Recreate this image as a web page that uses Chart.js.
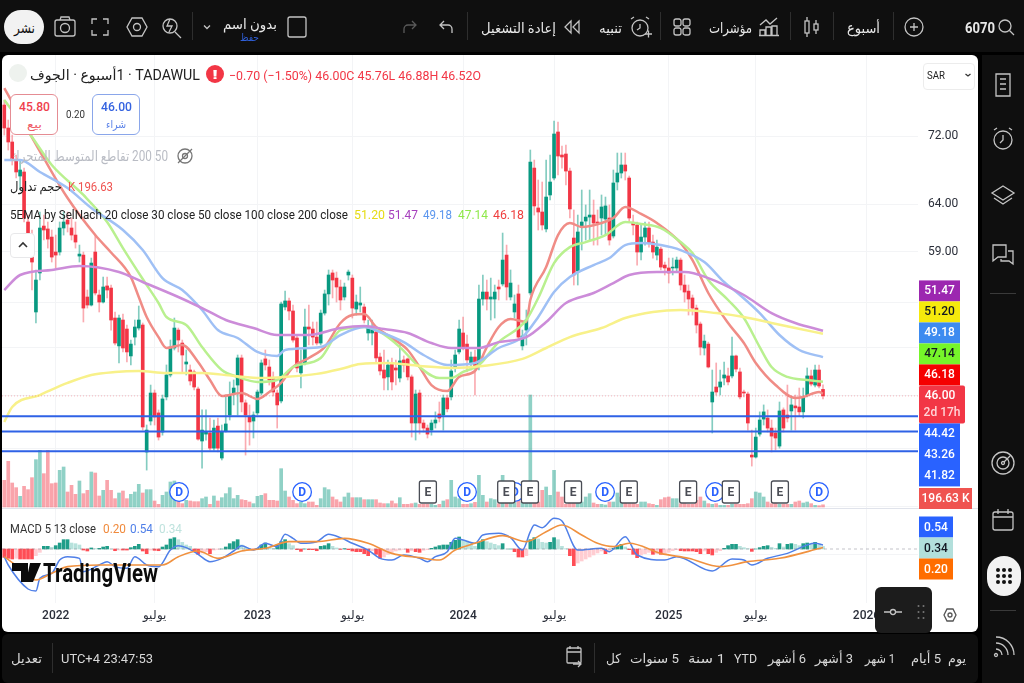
<!DOCTYPE html>
<html lang="ar"><head><meta charset="utf-8">
<script src="https://cdn.jsdelivr.net/npm/chart.js@4"></script>
<style>
html,body{margin:0;padding:0;width:1024px;height:683px;overflow:hidden;background:#000;font-family:Roboto,"Noto Sans","DejaVu Sans",sans-serif}
#top{position:absolute;left:0;top:0;width:1024px;height:52px;background:#0f0f0f}
#side{position:absolute;left:982px;top:55px;width:42px;height:628px;background:#0f0f0f}
#bottom{position:absolute;left:2px;top:634px;width:976px;height:49px;background:#0f0f0f;border-radius:6px}
#pane{position:absolute;left:2px;top:55px;width:976px;height:577px;background:#fff;border-radius:6px;overflow:hidden}
#chartCanvas{position:absolute;left:0;top:0}
#ov{position:absolute;left:0;top:0;width:1024px;height:683px;pointer-events:none}
#ov span,#ov div{position:absolute;white-space:nowrap}
#ov svg{position:absolute;overflow:visible}
</style></head><body>
<div id="top"></div><div id="side"></div><div id="bottom"></div>
<div id="pane"><canvas id="chartCanvas" width="976" height="577" style="width:976px;height:577px"></canvas></div>
<div id="ov"></div>
<script>
// ---- weekly candles (SAR) ----
const opens=[75.95,73.0,71.26,69.08,67.2,67.67,62.08,58.44,53.16,56.86,
61.65,61.34,60.49,58.95,58.95,61.44,62.29,61.44,60.70,58.54,
58.64,54.55,53.80,58.95,54.74,54.08,55.60,55.40,52.61,50.14,
52.43,51.62,49.28,50.91,51.71,51.98,41.76,44.05,46.23,44.67,
43.22,45.92,47.69,49.96,51.53,50.39,48.60,48.10,47.94,46.55,
42.56,43.07,43.15,42.04,43.67,41.33,43.30,44.51,46.23,46.87,
49.11,45.45,44.36,44.05,44.67,46.23,49.03,48.35,47.44,46.23,
45.60,53.62,54.18,53.25,50.83,47.86,48.69,51.80,51.62,50.91,
50.39,53.06,54.84,56.86,56.36,55.50,54.55,56.66,56.36,53.43,
53.80,53.62,51.27,51.27,51.36,49.19,48.10,47.53,48.69,48.27,
47.44,48.94,49.03,47.53,43.90,46.23,43.90,43.52,43.37,43.90,
44.59,44.51,45.84,45.92,48.27,49.62,51.27,50.30,48.69,49.19,
48.44,54.36,55.02,54.36,54.36,55.50,55.79,58.64,54.55,53.16,
54.84,50.14,51.53,54.93,68.13,63.60,63.16,61.34,65.04,66.97,
72.50,69.68,69.80,67.78,60.39,57.05,61.55,62.18,62.61,62.83,
62.08,62.51,62.40,62.51,60.60,66.51,67.55,68.49,66.97,61.97,
61.76,58.95,60.49,61.44,59.97,58.64,59.25,57.64,57.35,57.35,
57.35,58.14,55.69,55.11,54.46,53.52,52.07,49.96,50.30,45.52,
46.71,46.71,47.44,47.61,47.61,49.28,47.94,46.31,46.15,41.54,
41.40,43.07,44.20,44.28,43.52,43.15,42.19,44.90,44.51,44.82,
45.21,45.13,44.75,46.07,47.61,46.87,48.10,46.52];
const highs=[76.61,74.01,72.12,69.68,69.08,68.13,62.83,61.23,57.15,63.16,
62.83,62.08,61.23,60.70,62.08,63.16,63.16,62.51,62.08,59.66,
58.95,55.21,58.34,60.70,55.21,56.46,56.46,55.69,53.16,52.88,
52.97,51.98,50.65,52.43,53.71,52.16,43.75,46.87,46.47,44.90,
46.07,48.52,50.65,52.61,51.71,50.65,49.79,48.52,48.10,46.71,
44.90,44.90,44.28,44.13,44.28,43.75,46.07,47.12,47.28,49.36,
49.36,45.68,45.29,44.75,46.47,48.94,49.79,48.94,47.94,46.47,
54.08,55.11,54.46,53.80,51.09,49.79,53.43,53.80,52.25,52.25,
53.34,55.21,57.15,57.15,56.95,56.17,55.88,57.15,56.66,54.74,
55.50,53.90,52.43,52.43,51.71,49.53,49.79,48.94,49.11,48.94,
50.22,49.28,49.11,47.69,46.47,46.47,44.13,43.75,44.13,44.75,
45.52,46.07,46.07,48.94,49.79,52.43,52.70,51.09,49.62,49.79,
55.69,56.66,56.17,56.36,55.69,56.17,60.91,59.66,57.15,54.74,
55.69,51.53,53.34,70.28,69.08,66.74,66.51,69.08,69.68,73.88,
73.76,70.77,70.89,68.13,63.38,62.83,65.60,63.93,65.60,64.48,
63.38,65.04,64.81,63.93,67.90,69.92,69.92,69.92,67.20,62.83,
62.08,61.76,62.08,62.08,60.70,60.18,59.45,57.94,58.34,58.34,
58.44,58.34,56.66,55.69,54.74,53.80,52.25,51.09,50.47,48.10,
48.69,48.10,48.77,48.27,50.91,49.36,48.27,46.47,46.31,43.37,
43.52,44.75,45.29,44.90,44.13,43.52,45.52,45.06,46.87,45.84,
46.07,46.63,46.63,48.27,48.10,48.52,48.52,46.88];
const lows=[72.12,70.28,68.49,66.97,65.60,62.08,60.18,55.21,52.16,56.17,
60.18,59.35,57.94,57.35,58.64,60.70,61.02,60.18,59.35,57.94,
52.25,53.52,53.71,54.74,53.16,53.99,54.46,51.53,50.22,48.69,
49.62,48.77,48.52,50.22,51.53,43.37,40.48,43.75,43.75,42.63,
42.99,45.68,47.53,49.79,49.62,47.94,47.69,46.87,46.47,42.63,
40.62,42.63,41.90,41.90,41.76,41.19,43.22,44.13,45.29,44.51,
44.75,41.54,42.26,42.78,44.51,46.07,48.10,46.87,45.99,43.52,
45.45,53.34,52.43,50.47,47.94,46.63,48.52,50.22,50.22,50.22,
50.22,52.88,53.80,54.46,54.08,53.34,54.27,56.17,52.61,52.88,
53.16,52.16,50.65,50.22,48.77,47.69,46.47,46.47,46.47,46.87,
47.12,47.94,47.28,42.85,42.63,43.07,43.22,42.78,42.99,43.52,
43.98,43.37,44.75,45.68,47.94,49.45,49.79,47.94,48.10,46.07,
48.10,53.80,53.34,52.43,52.61,54.27,55.60,54.27,54.27,52.61,
50.65,49.79,50.22,54.74,62.83,61.23,61.23,61.02,64.48,66.74,
67.32,68.13,66.17,62.51,55.69,55.69,59.15,60.18,60.18,59.66,
59.66,60.70,60.70,59.66,60.39,65.60,66.97,66.74,62.08,60.70,
57.64,58.14,59.66,59.45,58.34,58.14,57.15,56.66,55.88,56.66,
56.95,55.21,54.08,52.88,52.88,51.27,49.36,49.36,48.27,43.15,
46.07,46.07,46.87,46.87,47.44,47.94,45.76,45.92,43.37,40.76,
41.33,42.92,43.75,43.22,41.76,41.90,42.04,43.22,43.98,43.37,
43.37,44.43,44.28,45.92,46.79,46.71,46.63,45.76];
const closes=[73.0,71.26,69.08,67.67,67.9,62.51,60.91,57.94,56.17,61.44,
61.23,60.28,58.44,58.64,61.44,62.08,61.86,60.70,59.97,58.74,
53.52,53.80,57.84,54.93,54.08,55.50,55.21,52.43,50.39,52.61,
49.96,49.62,50.30,51.80,52.43,43.60,43.37,46.23,44.36,42.85,
45.76,47.69,50.04,51.71,50.65,49.36,48.77,47.20,46.71,42.70,
43.37,43.22,42.04,43.52,42.04,43.22,43.83,45.99,46.63,49.11,
45.52,44.51,43.98,44.51,46.31,48.69,48.52,47.28,46.31,45.29,
53.90,54.18,53.25,50.65,48.27,48.69,51.80,51.62,50.91,50.39,
53.06,54.84,56.66,56.17,55.50,54.27,55.50,56.95,53.52,54.08,
53.99,52.43,51.80,51.71,49.11,48.02,47.44,48.52,47.12,48.10,
48.86,48.52,47.53,43.90,46.15,43.90,43.52,43.07,43.90,44.13,
44.28,45.84,44.98,48.02,49.36,51.62,50.04,48.94,49.19,48.27,
54.36,55.02,54.36,54.55,55.02,55.31,58.14,55.50,55.88,53.90,
50.91,51.00,52.43,68.84,63.82,63.16,61.76,64.81,66.51,72.25,
69.56,69.44,67.78,63.49,56.66,61.02,62.08,62.61,62.83,61.97,
61.97,63.71,63.82,60.18,66.40,67.55,68.49,67.78,62.51,61.76,
58.95,60.49,61.44,59.87,58.95,59.45,57.44,57.35,56.86,57.44,
58.14,55.69,55.02,54.36,53.52,51.98,50.04,50.56,48.35,46.31,
46.31,47.12,47.69,47.12,49.28,48.18,45.92,46.23,43.90,41.40,
42.85,44.13,44.75,43.52,42.92,42.78,44.82,43.52,44.28,45.29,
45.06,44.75,45.92,47.61,46.95,48.10,46.79,46.00];
const volumesK=[2400,4110,2160,1740,960,1860,1560,2640,4260,5100,
3000,5100,2100,2160,3300,3600,1350,1950,1140,2340,
1200,1500,3150,3060,990,1500,2400,1500,750,1260,
1440,750,1140,1350,2040,1260,1560,1560,540,240,
1050,1350,2250,2340,900,300,600,540,480,480,
750,900,240,990,540,840,1200,1740,750,1050,
660,600,450,300,960,1050,1200,600,600,540,
3450,1440,900,600,300,450,300,450,450,150,
750,1740,1560,900,660,450,900,1260,840,840,
840,660,660,660,660,360,300,300,540,300,
840,240,240,300,360,240,240,240,240,150,
240,540,660,2400,900,750,240,240,300,420,
2850,1050,450,750,660,300,
2850,900,900,450,600,450,450,10080,1200,450,
1500,1800,1050,3300,1350,900,240,450,450,450,
450,900,1200,360,240,240,180,450,450,1260,
900,450,300,300,240,450,450,300,240,150,
660,840,900,750,750,300,300,240,240,600,
900,540,300,240,300,150,150,150,240,240,
240,240,300,750,1350,1260,900,450,300,300,
240,240,240,240,450,540,360,450,300,150,
120,196.63];
const macdHist=[-1.13,-1.26,-1.35,-1.26,-1.35,-1.35,-1.35,-1.35,-.9,-.45,
.36,.36,.23,.45,.81,1.26,1.26,.81,.72,.54,
-.14,-.27,.14,.05,.09,.27,.36,0,-.23,-.14,
-.14,-.14,.18,.36,.63,-.27,-.63,-.14,-.18,-.23,
.27,.54,1.35,1.53,1.26,.9,.54,.36,-.23,-.72,
-.54,-.36,-.63,-.14,-.05,0,.27,.72,.99,1.26,
.54,.23,.05,-.09,.09,.54,.81,.23,.09,.54,
.99,1.26,.72,.45,-.09,-.32,0,-.09,-.09,-.23,
.36,.45,.72,.36,.14,-.05,.05,-.09,-.27,-.36,
-.36,-.63,-.9,-.23,-.72,-1.26,-1.08,-.72,-.45,-.27,
-.14,-.05,-.45,-.23,-.36,-.45,-.18,
-.09,.09,.27,.45,.54,.54,.9,1.17,1.62,1.17,
1.08,.72,.36,.9,1.26,.99,.81,.63,.45,.72,
0,0,-.36,-1.08,-1.08,-.9,1.26,1.53,1.35,.9,
.81,.9,1.53,1.26,.36,.05,-.9,-2.25,-1.89,-1.62,
-1.35,-1.08,-.81,-.54,-.27,-.63,-.18,.09,.36,.63,.27,
-.09,-.72,-1.17,-.81,-.63,-.45,-.72,-.63,-.72,-.63,
-.45,-.23,-.09,-.23,-.27,-.27,-.27,-.36,-.63,-.27,
-.63,-.81,-.45,-.23,.09,.45,.63,.63,.36,.18,
.05,-.32,0,.18,.36,.45,.23,.09,.72,.27,
.63,.72,.63,.45,.72,.81,.72,.9,.54,.34];

// ---- moving averages, read at sample weeks ----
const ema20Weeks=[0,10,16,23,27,32,34,36,39,41,45,49,52,55,60,64,67,70,73,77,81,85,88,91,94,98,102,105,108,112,115,119,122,125,128,132,133,137,140,143,146,151,154,157,161,165,171,174,178,183,187,190,195,200,202,206,207];
const ema20Values=[78.2,69.3,64.7,60.7,58.9,56.46,54.55,52.7,50.9,49.96,50.22,48.77,47.28,45.99,46.23,45.76,46.31,47.04,48.35,49.11,50.04,52.16,52.88,52.97,51.8,50.83,49.79,48.35,46.87,46.39,47.53,48.02,50.04,51.8,52.52,52.25,54.27,57.44,60.7,61.97,61.55,61.97,62.51,63.71,62.95,61.97,59.87,58.14,54.93,52.16,50.39,48.69,46.87,45.84,45.92,46.31,46.18];
const ema30Weeks=[0,7,12,20,26,30,35,39,41,46,50,55,59,64,69,73,80,85,91,95,100,105,110,113,116,120,125,130,132,135,139,143,147,152,157,161,166,171,174,178,183,187,191,194,198,203,207];
const ema30Values=[76.61,71.88,68.49,65.04,62.08,59.35,56.27,53.99,52.7,51.98,50.04,48.1,47.53,47.12,47.28,48.35,49.11,51.53,51.8,51.36,50.04,48.35,47.44,47.44,47.94,48.52,50.47,51.71,52.43,54.46,57.84,59.45,59.97,60.7,62.08,61.86,61.44,59.97,58.84,56.17,54.27,52.61,50.04,48.35,47.53,47.28,47.14];
const ema50Weeks=[0,4,9,16,22,30,35,40,45,50,54,59,64,69,71,80,85,91,95,101,106,112,119,125,131,135,139,143,149,153,157,161,166,171,177,182,186,191,196,201,207];
const ema50Values=[69.08,69.08,67.67,65.83,63.6,61.23,59.15,56.36,55.21,53.34,51.53,50.83,49.62,49.28,49.79,50.04,51.09,51.8,51.36,50.47,49.36,48.52,48.69,49.96,50.91,52.7,55.02,56.46,57.64,58.34,59.66,59.87,59.66,59.15,57.94,55.98,54.74,53.06,51.09,49.79,49.18];
const ema100Weeks=[0,4,12,19,29,35,44,51,56,63,69,77,85,91,96,102,108,113,120,125,132,137,142,149,154,158,165,172,178,187,194,200,207];
const ema100Values=[55.21,56.66,57.15,57.54,56.95,55.98,54.55,53.34,52.43,51.71,51.09,51.09,51.71,51.89,51.62,51.27,50.39,49.96,49.96,50.47,50.91,52.25,53.99,54.93,55.88,56.66,56.95,56.95,56.36,54.74,53.06,52.16,51.47];
const ema200Weeks=[0,2,9,16,22,28,34,41,50,58,65,71,79,85,90,97,105,113,121,131,137,143,151,157,164,171,180,187,194,200,207];
const ema200Values=[43.98,45.13,46.07,47.04,47.69,47.94,48.02,47.86,47.86,47.61,47.44,47.53,47.78,48.18,48.6,48.69,48.44,48.27,48.44,49.03,49.96,50.91,51.71,52.61,53.16,53.34,53.06,52.7,52.16,51.71,51.2];

// ---- MACD lines, read at sample weeks ----
const macdWeeks=[0,1,6,8,9,12,14,16,19,20,24,26,28,31,33,36,39,42,44,46,49,52,55,58,60,63,66,69,71,73,75,79,82,85,88,92,95,98,101,105,107,109,112,114,116,119,121,125,128,131,133,134,136,139,141,145,151,153,157,160,167,170,179,184,187,189,193,198,205,207];
const macdValues=[-1.04,-2.16,-5.4,-5.67,-3.96,-3.28,-1.49,-1.04,-1.26,-3.06,-2.16,-1.71,-2.38,-2.61,-1.04,-2.16,-2.38,-.14,.45,.18,-.72,-1.71,-1.26,-.27,.45,-.14,.77,.32,1.98,1.44,.77,.99,1.98,1.53,.77,-.14,-1.26,-1.49,-.81,-1.26,-1.71,-1.04,-.36,1.44,1.22,.77,1.89,2.12,1.53,-.14,2.34,3.24,2.88,4.14,3.78,-.14,.09,-.36,1.67,-.81,-1.49,-1.04,-2.97,-1.35,-1.49,-2.16,-1.26,-.59,.77,.54];
const signalWeeks=[0,4,8,12,16,24,33,40,44,49,54,60,66,72,79,86,92,98,105,110,114,119,126,132,137,141,146,150,154,158,166,173,181,188,196,207];
const signalValues=[-1.04,-2.61,-4.19,-3.28,-2.38,-2.16,-2.16,-2.16,-1.04,-.27,-1.26,-.27,.09,.99,.99,1.44,.77,-.59,-1.17,-1.49,-.14,.77,1.8,.99,2.34,3.24,1.89,.77,.32,.77,-.59,-1.26,-2.38,-1.71,-1.26,.2];

// ---- levels, ticks, events, tags ----
const blueLevels=[44.42,43.26,41.82];
const lastPrice=46.00;
const priceTicks=[72,64,59,54,50,46,42,38,35];
const labelledPrices=[72,64,59];
const xTickWeeks=[13,38,64,88,116,139,168,190,218];
const xTickLabels=['2022','يوليو','2023','يوليو','2024','يوليو','2025','يوليو','2026'];
const earningsWeeks=[107.1,126.9,132.9,143.8,157.9,172.9,183.7,196.1];
const dividendWeeks=[44.2,75.3,117,129.1,151.9,179.7,206];
const upperTags=[['51.47','#9c27b0','#fff'],['51.20','#f5e90c','#131722'],['49.18','#3d8bf0','#fff'],['47.14','#76f52a','#131722'],['46.18','#f50000','#fff']];
const lowerTags=['44.42','43.26','41.82'];
const macdTags=[['0.54','#2962ff','#fff'],['0.34','#b2dfdb','#131722'],['0.20','#ff6d00','#fff']];

const UP='#089981',DOWN='#f23645';
const isUp=closes.map((c,i)=>c>=opens[i]);
const sample=(wk,val)=>wk.map((w,i)=>({x:w,y:val[i]}));
const line=(wk,val,color,id,w)=>({type:'line',label:id,data:sample(wk,val),borderColor:color,borderWidth:w||2.5,pointRadius:0,cubicInterpolationMode:'monotone',order:3,yAxisID:'y'});
const XMIN=-0.58,XMAX=231.02;
const hline=(v,color,w,dash,axis,order)=>({type:'line',data:[{x:XMIN,y:v},{x:XMAX,y:v}],borderColor:color,borderWidth:w,borderDash:dash||[],pointRadius:0,order,yAxisID:axis||'y'});

const macdColor=macdHist.map((v,i)=>{const p=i?macdHist[i-1]:0;
  if(v>=0)return v>=p?'#1f9e89':'#b7e2dc';return v<=p?'#ff4d55':'#ffcdd2';});

const plugin={id:'extras',
 afterDatasetsDraw(c){
  const g=c.ctx,x=c.scales.x,vol=c.scales.vol,y0=vol.getPixelForValue(0)-15;
  g.save();g.font='bold 12px Roboto';g.textAlign='center';g.textBaseline='middle';
  dividendWeeks.forEach(w=>{const px=x.getPixelForValue(w);g.beginPath();g.arc(px,y0,9.3,0,7);g.fillStyle='#fff';g.fill();g.lineWidth=1.3;g.strokeStyle='#2962ff';g.stroke();g.fillStyle='#2962ff';g.fillText('D',px,y0+.5);});
  earningsWeeks.forEach(w=>{const px=x.getPixelForValue(w);g.beginPath();g.roundRect(px-8.5,y0-11,17,22,2);g.fillStyle='#fff';g.fill();g.lineWidth=1.3;g.strokeStyle='#4a4d55';g.stroke();g.fillStyle='#4a4d55';g.fillText('E',px,y0+.5);});
  // separator between the price and MACD panes
  g.strokeStyle='#e0e3eb';g.lineWidth=1;g.beginPath();g.moveTo(0,vol.getPixelForValue(0)+1.5);g.lineTo(976,vol.getPixelForValue(0)+1.5);g.stroke();
  g.restore();
 },
 afterDraw(c){
  const g=c.ctx,y=c.scales.y,m=c.scales.macd,L=c.chartArea.right+1;
  g.save();g.font='500 12px Roboto';g.textBaseline='middle';g.textAlign='center';
  const H=21;
  const top=y.getPixelForValue(lastPrice)-10.5;
  upperTags.forEach((t,i)=>{const yy=top-H*(upperTags.length-i);g.fillStyle=t[1];g.fillRect(L,yy,41,H);g.fillStyle=t[2];g.fillText(t[0],L+20.5,yy+H/2+.5);});
  g.fillStyle='#f23645';g.beginPath();g.roundRect(L,top,46,38,2);g.fill();
  g.fillStyle='#fff';g.fillText('46.00',L+21,top+11);g.fillStyle='#ffd5d8';g.fillText('2d 17h',L+23,top+28);
  const bt=top+38;g.fillStyle='#2962ff';g.fillRect(L,bt,41,H*3);
  g.fillStyle='#fff';lowerTags.forEach((t,i)=>g.fillText(t,L+20.5,bt+H*i+H/2+.5));
  const vb=c.scales.vol.getPixelForValue(0);
  g.fillStyle='#ef5350';g.fillRect(L,vb-19,53,21);g.fillStyle='#fff';g.fillText('196.63 K',L+26.5,vb-8);
  const z=m.getPixelForValue(0);
  macdTags.forEach((t,i)=>{const yy=z-32+H*i-.5;g.fillStyle=t[1];g.fillRect(L,yy,34,H);g.fillStyle=t[2];g.fillText(t[0],L+17,yy+H/2+.5);});
  g.restore();
 }};

new Chart(document.getElementById('chartCanvas'),{
 plugins:[plugin],
 data:{datasets:[
  hline(lastPrice,'rgba(242,54,69,.35)',1,[1,2],'y',2),
  ...blueLevels.map(v=>hline(v,'#2f62e6',2,[], 'y',1)),
  hline(0,'rgba(120,123,134,.45)',1,[3,3],'macd',2),
  line(ema200Weeks,ema200Values,'#f8f18a','EMA 200'),
  line(ema100Weeks,ema100Values,'#cc8cd9','EMA 100'),
  line(ema50Weeks,ema50Values,'#9fc0f5','EMA 50'),
  line(ema30Weeks,ema30Values,'#b9f08f','EMA 30'),
  line(ema20Weeks,ema20Values,'#f08c86','EMA 20'),
  {type:'line',data:sample(signalWeeks,signalValues),borderColor:'#f0913f',borderWidth:1.6,pointRadius:0,cubicInterpolationMode:'monotone',yAxisID:'macd',order:1},
  {type:'line',data:sample(macdWeeks,macdValues),borderColor:'#4f7fe8',borderWidth:1.5,pointRadius:0,cubicInterpolationMode:'monotone',yAxisID:'macd',order:2},
  {type:'bar',data:closes.map((c,i)=>({x:i,y:[opens[i],c]})),backgroundColor:isUp.map(u=>u?UP:DOWN),barThickness:3,grouped:false,order:4,yAxisID:'y'},
  {type:'bar',data:closes.map((c,i)=>({x:i,y:[lows[i],highs[i]]})),backgroundColor:isUp.map(u=>u?'rgba(8,153,129,.5)':'rgba(242,54,69,.42)'),barThickness:1,grouped:false,order:5,yAxisID:'y'},
  {type:'bar',data:volumesK.map((v,i)=>({x:i,y:v})),backgroundColor:isUp.map(u=>u?'rgba(8,153,129,.45)':'rgba(242,54,69,.45)'),barThickness:3,grouped:false,order:10,yAxisID:'vol'},
  {type:'bar',data:macdHist.map((v,i)=>({x:i,y:v})),backgroundColor:macdColor,barThickness:3,grouped:false,order:6,yAxisID:'macd'}
 ]},
 options:{responsive:false,animation:false,devicePixelRatio:1,
  layout:{padding:0},
  plugins:{legend:{display:false},tooltip:{enabled:false},title:{display:false}},
  scales:{
   x:{type:'linear',min:XMIN,max:XMAX,offset:false,
    afterFit(s){s.height=29;s.paddingLeft=0;s.paddingRight=0},
    afterBuildTicks(s){s.ticks=xTickWeeks.map(v=>({value:v}))},
    grid:{color:'#f3f4f6',drawTicks:false,offset:false},border:{display:false},
    ticks:{autoSkip:false,maxRotation:0,padding:6,color:'#2a2e39',font:{family:'Roboto',size:12,weight:'500'},
     callback:(v)=>xTickLabels[xTickWeeks.indexOf(v)]}},
   y:{type:'logarithmic',position:'right',min:32.19,max:82.79,
    afterFit(s){s.width=60;s.paddingTop=0;s.paddingBottom=0},
    afterBuildTicks(s){s.ticks=priceTicks.map(v=>({value:v}))},
    grid:{color:'#f3f4f6',drawTicks:false},border:{display:false},
    ticks:{autoSkip:false,padding:10,color:'#2a2e39',font:{family:'Roboto',size:12},
     callback:(v)=>labelledPrices.includes(v)?v.toFixed(2):''}},
   vol:{type:'linear',display:false,min:-8640,max:40680},
   macd:{type:'linear',display:false,min:-7.29,max:66.69}
  }}
});

// ---- interface text and icons ----
const ov=document.getElementById('ov');
function t(l,r,cy,s,o){o=o||{};const e=document.createElement('span');e.textContent=s;
 e.style.cssText=`left:${l}px;top:0;font-size:${o.size||13}px;color:${o.color||'#d6d6d6'};font-weight:${o.weight||400};transform-origin:0 0;line-height:1`;
 if(o.dir)e.dir=o.dir;ov.appendChild(e);
 const b=e.getBoundingClientRect();e.style.top=(cy-b.height/2)+'px';
 e.style.transform=`scaleX(${(r-l)/b.width})`;return e;}
function ic(x,y,inner,stroke,sw){const n='http://www.w3.org/2000/svg';const s=document.createElementNS(n,'svg');
 s.setAttribute('width',24);s.setAttribute('height',24);s.setAttribute('viewBox','-12 -12 24 24');
 s.setAttribute('fill','none');s.setAttribute('stroke',stroke||'#c4c4c4');s.setAttribute('stroke-width',sw||1.3);
 s.style.left=(x-12)+'px';s.style.top=(y-12)+'px';s.innerHTML=inner;ov.appendChild(s);}
function box(l,tp,w,h,css){const d=document.createElement('div');d.style.cssText=`left:${l}px;top:${tp}px;width:${w}px;height:${h}px;${css}`;ov.appendChild(d);return d;}
const sep=x=>box(x,12,1,28,'background:#2e2e2e');

// top bar
box(4,10,40,34,'background:#f2f2f2;border-radius:17px');
t(14,35,28,'نشر',{color:'#111',size:14});
ic(65,27,'<rect x="-10" y="-7" width="20" height="16" rx="2"/><circle r="4.5" cy="1"/><path d="M-5-7l1-3h8l1 3"/>');
ic(100,27,'<path d="M-8-3v-5h5M3-8h5v5M8 3v5H3M-3 8h-5V3"/>');
ic(137,27,'<path d="M-5-9H5L10 0 5 9H-5L-10 0z"/><circle r="3.5"/>');
ic(171,27,'<circle r="7" cx="-1" cy="-1"/><path d="M4 5l6 6M-1-8l-3 7h5l-3 6"/>');
sep(192);
ic(207,27,'<path d="M-3-1.5L0 1.5 3-1.5"/>');
t(223,277,24,'بدون اسم',{color:'#e8e8e8',size:14});
t(240,259,38,'حفظ',{color:'#2f5fd8',size:10});
ic(297,27,'<rect x="-9" y="-10" width="18" height="20" rx="2"/>');
ic(410,27,'<path d="M-6 6v-4a4 4 0 0 1 4-4H6M2-6L6-2 2 2"/>','#5a5a5a');
ic(446,27,'<path d="M6 6v-4a4 4 0 0 0-4-4H-6M-2-6L-6-2-2 2"/>');
sep(467);
t(481,556,28,'إعادة التشغيل',{color:'#e8e8e8',size:14});
ic(572,27,'<path d="M7-6L1 0l6 6zM-1-6l-6 6 6 6z"/>');
t(599,622,28,'تنبيه',{color:'#e8e8e8',size:14});
ic(640,27,'<circle r="8" cy="1"/><path d="M0-3V1L-3 3M-9-8L-6-10M9-8L6-10M5 7h7M8.5 3.5v7"/>');
sep(660);
ic(682,27,'<rect x="-8" y="-8" width="7" height="7" rx="2"/><rect x="1" y="-8" width="7" height="7" rx="2"/><rect x="-8" y="1" width="7" height="7" rx="2"/><rect x="1" y="1" width="7" height="7" rx="2"/>');
t(709,752,28,'مؤشرات',{color:'#e8e8e8',size:14});
ic(769,27,'<path d="M-9-2L-3-7 1-3 8-9M-9 8V3h5v5M-3 8V0h5v8M3 8V-1h5v9M-10 8.5h20"/>');
sep(790);
ic(811,27,'<rect x="-6" y="-6" width="4" height="12"/><rect x="3" y="-3" width="4" height="6"/><path d="M-4-10v4M-4 6v4M5-7v4M5 3v4"/>');
sep(833);
t(847,880,28,'أسبوع',{color:'#e8e8e8',size:14});
sep(893);
ic(914,27,'<circle r="9"/><path d="M-4 0H4M0-4V4"/>');
t(965,995,28,'6070',{color:'#e8e8e8',size:14,weight:700});
ic(1006,27,'<circle r="6" cx="-1" cy="-1"/><path d="M3.5 3.5L8 8"/>');

// side bar
ic(1003,85,'<path d="M-7-11H7V11H-7zM-3-6H3M-3-1H3M-3 4H3"/>');
ic(1003,139,'<circle r="9" cy="1"/><path d="M0-4V1L-3 4M-9-9L-6-11M9-9L6-11"/>');
ic(1003,195,'<path d="M0-9L11-2 0 5-11-2zM-9 3L0 9 9 3"/>');
ic(1003,254,'<path d="M-10-9H3V3H-5L-10 7zM5-3H10V10L6 7H-2V5"/>');
box(990,293,26,1,'background:#3a3a3a');
ic(1003,463,'<circle r="11"/><circle r="6"/><circle r="1.5"/><path d="M1 -1L8-8"/>');
ic(1003,520,'<rect x="-10" y="-8" width="20" height="18" rx="2"/><path d="M-10-3H10M-5-11v5M5-11v5"/>');
box(987,556,34,40,'background:#f2f2f2;border-radius:20px');
ic(1004,576,'<g fill="#111" stroke="none"><circle cx="-6" cy="-6" r="2"/><circle cy="-6" r="2"/><circle cx="6" cy="-6" r="2"/><circle cx="-6" r="2"/><circle r="2"/><circle cx="6" r="2"/><circle cx="-6" cy="6" r="2"/><circle cy="6" r="2"/><circle cx="6" cy="6" r="2"/></g>');
box(990,610,26,1,'background:#3a3a3a');
ic(1003,647,'<circle cx="-7" cy="8" r="1.5"/><path d="M-7 2a6 6 0 0 1 6 6M-7-4a12 12 0 0 1 12 12M-7-10a18 18 0 0 1 18 18"/>');

// bottom bar
[[948,966,'يوم'],[911,941,'5 أيام'],[865,895,'1 شهر'],[815,853,'3 أشهر'],[768,806,'6 أشهر'],[734,757,'YTD'],[688,725,'1 سنة'],[630,679,'5 سنوات'],[606,621,'كل']].forEach(a=>t(a[0],a[1],658,a[2],{color:'#d8d8d8',size:13,dir:'rtl'}));
ic(574,656,'<rect x="-7" y="-8" width="14" height="15" rx="1"/><path d="M-7-4H7M-4-10v3M4-10v3M-1 8h8M4 5l3 3-3 3"/>');
box(594,643,1,30,'background:#2e2e2e');
t(61,153,658,'UTC+4 23:47:53',{color:'#d8d8d8',size:13});
box(52,643,1,30,'background:#2e2e2e');
t(11,42,658,'تعديل',{color:'#d8d8d8',size:13});

// legend over the chart
t(30,200,75,'TADAWUL ·\u200f 1أسبوع · الجوف',{color:'#222',size:14,dir:'rtl'});
box(9,64,18,18,'background:#eef2ee;border-radius:9px');
box(206,65,18,18,'background:#f23645;border-radius:9px');
t(212,218,74.5,'!',{color:'#fff',size:13,weight:700});
const ohlc=t(229,481,75,'−0.70 (−1.50%) 46.00C 45.76L 46.88H 46.52O',{color:'#f23645',size:13});
ohlc.style.unicodeBidi='bidi-override';ohlc.style.direction='ltr';
box(10,94,48,41,'background:#fff;border:1px solid #e58c93;border-radius:6px;box-sizing:border-box');
t(19,50,106,'45.80',{color:'#ef3f4d',size:13,weight:500});
t(27,42,124,'بيع',{color:'#ef5a66',size:11});
t(66,85,114,'0.20',{color:'#333',size:11});
box(92,94,48,41,'background:#fff;border:1px solid #8aa6ea;border-radius:6px;box-sizing:border-box');
t(101,132,106,'46.00',{color:'#3563e0',size:13,weight:500});
t(106,126,124,'شراء',{color:'#5a82e8',size:11});
t(10,168,156,'50 200 تقاطع المتوسط المتحرك',{color:'#b9bcc4',size:14,dir:'rtl'});
ic(185,156,'<circle r="7"/><circle r="2.5"/><path d="M-7 7L7-7"/>','#777');
t(10,62,186,'حجم تداول',{color:'#222',size:13});
t(68,113,186,'K 196.63',{color:'#ef5350',size:13});
t(10,348,214,'5EMA by SelNach 20 close 30 close 50 close 100 close 200 close',{color:'#222',size:13});
[[354,385,'51.20','#e6dc14'],[388,418,'51.47','#a63fbd'],[423,452,'49.18','#5b96ee'],[458,488,'47.14','#8fe84a'],[493,524,'46.18','#ef3f3f']].forEach(a=>t(a[0],a[1],214,a[2],{color:a[3],size:13}));
box(10,233,25,25,'background:#fff;border:1px solid #e8e8ea;border-radius:4px;box-sizing:border-box');
ic(22.5,245,'<path d="M-4 2L0-2 4 2"/>','#333',1.6);
box(923,63,52,27,'background:#fff;border:1px solid #ececec;border-radius:4px;box-sizing:border-box');
t(927,945,75,'SAR',{color:'#222',size:11});
ic(968,75,'<path d="M-2.5-1L0 1 2.5-1"/>','#333');
t(10,96,528,'MACD 5 13 close',{color:'#333',size:13});
t(103,126,528,'0.20',{color:'#f08a3c',size:13});
t(130,153,528,'0.54',{color:'#4f7fe8',size:13});
t(159,182,528,'0.34',{color:'#bfe3de',size:13});

// TradingView mark
ic(27,573,'<path d="M-15-10H1V9H-6V-2H-15zM3-10H14L6 9H-1z" fill="#0b0b0b" stroke="none"/>');
t(43,158,573,'TradingView',{color:'#0b0b0b',size:25,weight:700});

// bottom-right scale widget
box(875,587,57,46,'background:#1c1c1c;border-radius:6px');
ic(893,612,'<path d="M-9 0H-3M3 0H9"/><circle r="2.5"/>','#c4c4c4');
ic(921,612,'<g fill="#777" stroke="none"><circle cx="-2.5" cy="-6" r="1"/><circle cx="2.5" cy="-6" r="1"/><circle cx="-2.5" r="1"/><circle cx="2.5" r="1"/><circle cx="-2.5" cy="6" r="1"/><circle cx="2.5" cy="6" r="1"/></g>');
ic(950,615,'<path d="M-3-6H3L6 0 3 6H-3L-6 0z"/><circle r="2"/>','#555');
</script></body></html>
